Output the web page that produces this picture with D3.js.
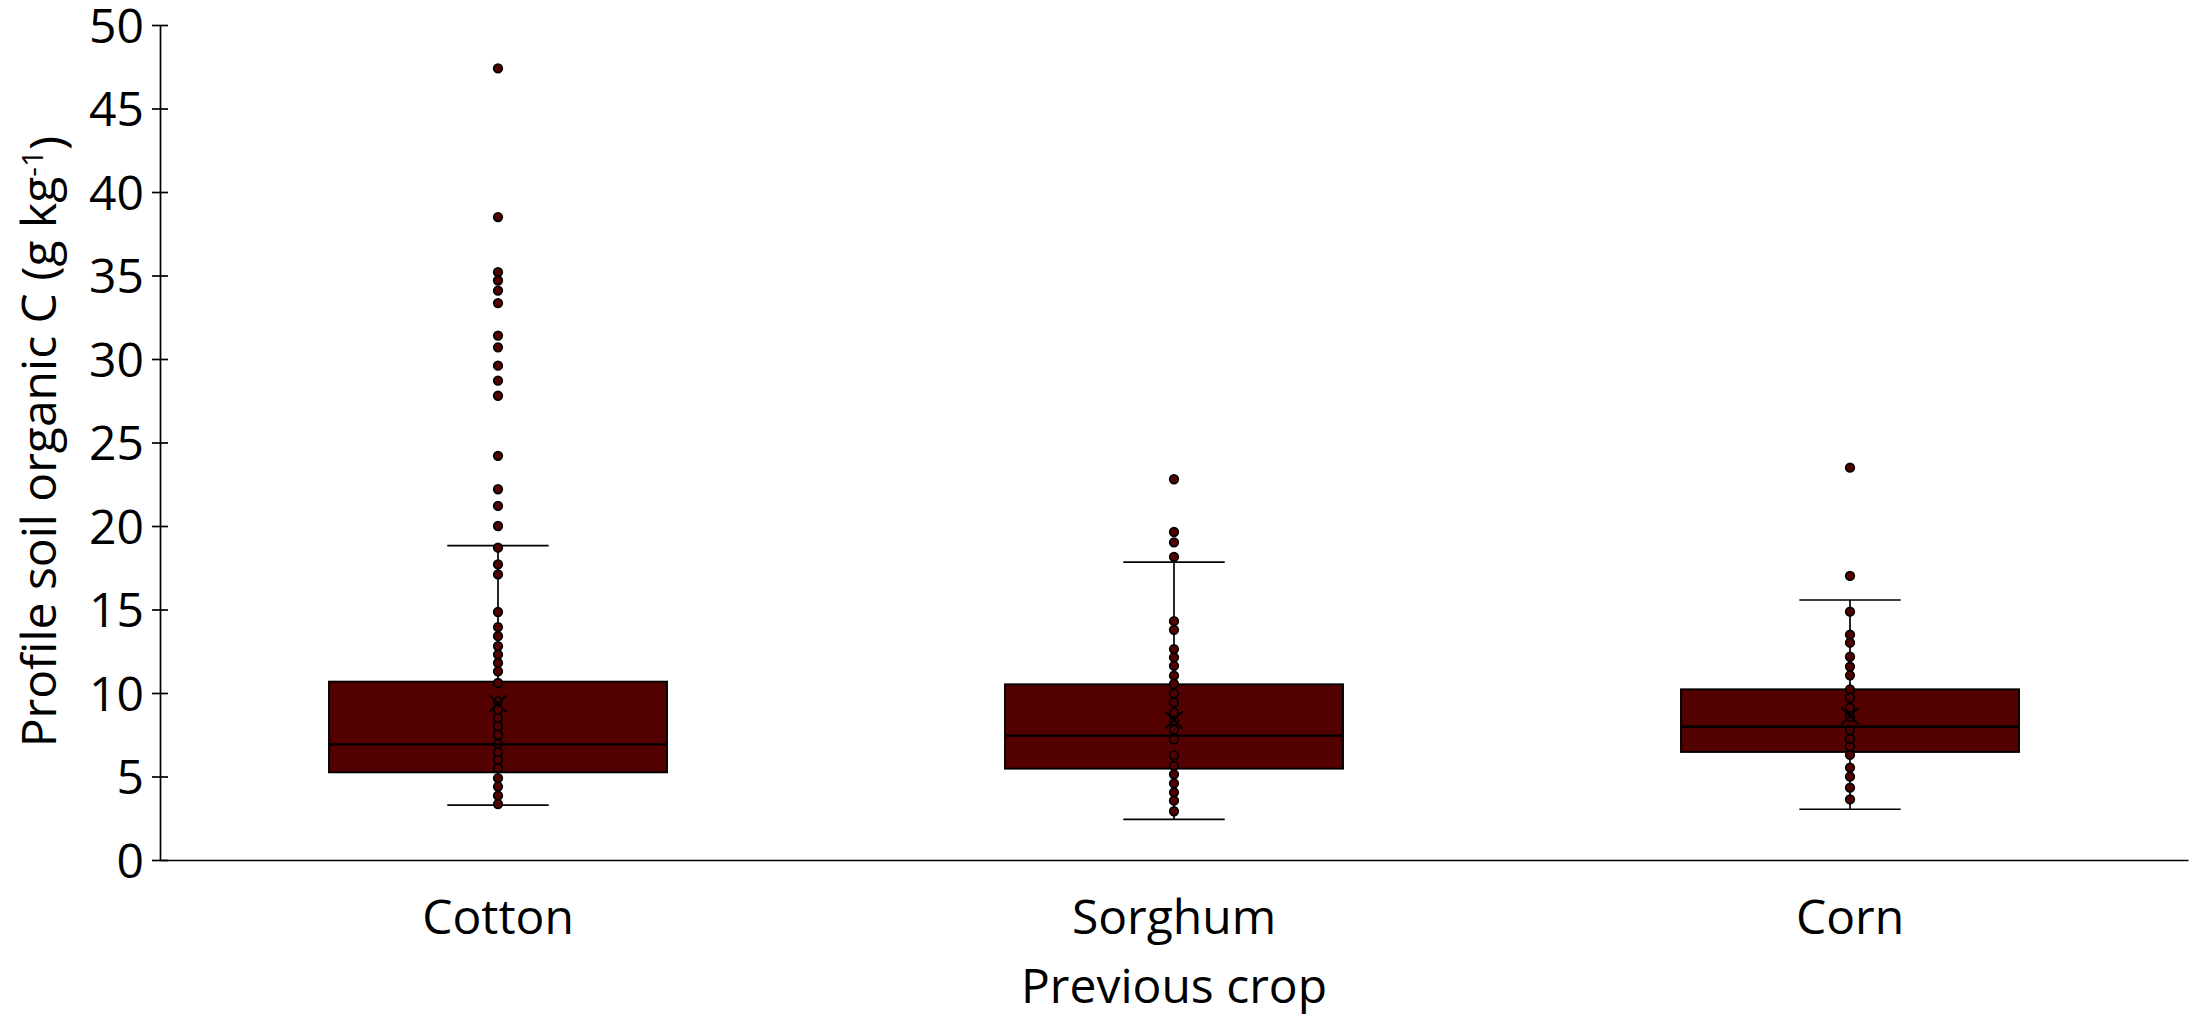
<!DOCTYPE html>
<html>
<head>
<meta charset="utf-8">
<script src="https://cdn.jsdelivr.net/npm/d3@7"></script>
<style>
  html, body { margin: 0; padding: 0; background: #ffffff; }
  svg { display: block; }
  text { font-family: "Open Sans", "Noto Sans", sans-serif; fill: #000; }
</style>
</head>
<body>
<svg id="chart" width="2201" height="1017"></svg>
<script>
// Previous crop categories
const crops = ["Cotton", "Sorghum", "Corn"];

// Box summaries (g kg-1)
const q1Values      = [5.25, 5.47, 6.47];
const medianValues  = [6.92, 7.45, 7.98];
const q3Values      = [10.68, 10.52, 10.22];
const lowerWhisker  = [3.28, 2.43, 3.04];
const upperWhisker  = [18.82, 17.84, 15.57];
const meanValues    = [9.36, 8.38, 8.62];

// Individual profile observations per crop
const cottonPoints = [47.4, 38.5, 35.2, 34.7, 34.1, 33.35, 31.4, 30.7, 29.6, 28.7, 27.8,
  24.2, 22.2, 21.2, 20.0, 18.7, 17.7, 17.1, 14.85, 13.95, 13.4, 12.8, 12.3, 11.8, 11.3,
  10.6, 9.5, 9.0, 8.5, 8.0, 7.5, 6.95, 6.45, 6.0, 5.5, 4.9, 4.4, 3.85, 3.35];
const sorghumPoints = [22.8, 19.64, 19.02, 18.15, 14.3, 13.78, 12.63, 12.13, 11.63, 11.04,
  10.54, 9.98, 9.43, 8.83, 8.33, 7.8, 7.22, 6.27, 5.65, 5.13, 4.59, 4.05, 3.55, 2.92];
const cornPoints = [23.49, 17.01, 14.87, 13.49, 13.01, 12.17, 11.58, 11.06, 10.22, 9.72,
  9.12, 8.55, 7.78, 7.25, 6.79, 6.29, 5.53, 4.99, 4.33, 3.63];
const pointSets = [cottonPoints, sorghumPoints, cornPoints];

// Axis ticks
const yTicks = [0, 5, 10, 15, 20, 25, 30, 35, 40, 45, 50];

const boxFill = "#520000";
const fontSize = 48;

const svg = d3.select("#chart");
const margin = { top: 25, right: 13, bottom: 157, left: 160 };
const W = 2201, H = 1017;
const innerW = W - margin.left - margin.right;
const innerH = H - margin.top - margin.bottom;

const x = d3.scaleBand().domain(crops).range([0, innerW]).paddingInner(0).paddingOuter(0);
const y = d3.scaleLinear().domain([0, 50]).range([innerH, 0]);

const g = svg.append("g").attr("transform", `translate(${margin.left},${margin.top})`);

const boxW = x.bandwidth() * 0.5;
const capW = x.bandwidth() * 0.15;

const stats = crops.map((c, i) => ({
  crop: c, q1: q1Values[i], med: medianValues[i], q3: q3Values[i],
  lo: lowerWhisker[i], hi: upperWhisker[i], mean: meanValues[i], pts: pointSets[i]
}));

const groups = g.selectAll("g.box").data(stats).join("g")
  .attr("class", "box")
  .attr("transform", d => `translate(${x(d.crop) + x.bandwidth() / 2},0)`);

// whisker stems
groups.append("line")
  .attr("x1", 0).attr("x2", 0)
  .attr("y1", d => y(d.q3)).attr("y2", d => y(d.hi))
  .attr("stroke", "#000").attr("stroke-width", 1.7);
groups.append("line")
  .attr("x1", 0).attr("x2", 0)
  .attr("y1", d => y(d.q1)).attr("y2", d => y(d.lo))
  .attr("stroke", "#000").attr("stroke-width", 1.7);

// whisker caps
groups.append("line")
  .attr("x1", -capW / 2).attr("x2", capW / 2)
  .attr("y1", d => y(d.hi)).attr("y2", d => y(d.hi))
  .attr("stroke", "#000").attr("stroke-width", 1.7);
groups.append("line")
  .attr("x1", -capW / 2).attr("x2", capW / 2)
  .attr("y1", d => y(d.lo)).attr("y2", d => y(d.lo))
  .attr("stroke", "#000").attr("stroke-width", 1.7);

// interquartile box
groups.append("rect")
  .attr("x", -boxW / 2).attr("width", boxW)
  .attr("y", d => y(d.q3)).attr("height", d => y(d.q1) - y(d.q3))
  .attr("fill", boxFill).attr("stroke", "#000").attr("stroke-width", 1.9);

// observations
groups.each(function (d) {
  d3.select(this).selectAll("circle").data(d.pts).join("circle")
    .attr("cx", 0).attr("cy", v => y(v)).attr("r", 4.3)
    .attr("fill", boxFill).attr("stroke", "#000").attr("stroke-width", 1.7);
});

// median line
groups.append("line")
  .attr("x1", -boxW / 2).attr("x2", boxW / 2)
  .attr("y1", d => y(d.med)).attr("y2", d => y(d.med))
  .attr("stroke", "#000").attr("stroke-width", 2.3);

// mean marker
groups.append("path")
  .attr("transform", d => `translate(0,${y(d.mean)})`)
  .attr("d", "M-8.5,-8.5L8.5,8.5M-8.5,8.5L8.5,-8.5")
  .attr("fill", "none").attr("stroke", "#000").attr("stroke-width", 1.9);

// y axis
const yAxis = g.append("g")
  .call(d3.axisLeft(y).tickValues(yTicks).tickSizeInner(8).tickSizeOuter(0).tickPadding(8));
yAxis.select(".domain").attr("stroke", "#000").attr("stroke-width", 1.7);
yAxis.selectAll(".tick line").attr("x1", -8).attr("x2", 8).attr("stroke", "#000").attr("stroke-width", 1.7);
yAxis.selectAll(".tick text")
  .style("font-family", "'Open Sans', sans-serif")
  .style("font-size", fontSize + "px").attr("fill", "#000").attr("dy", "0.36em");

// x axis
const xAxis = g.append("g")
  .attr("transform", `translate(0,${innerH})`)
  .call(d3.axisBottom(x).tickSize(0).tickSizeOuter(0));
xAxis.select(".domain").attr("stroke", "#000").attr("stroke-width", 1.7);
xAxis.selectAll(".tick text")
  .style("font-family", "'Open Sans', sans-serif")
  .style("font-size", fontSize + "px").attr("fill", "#000")
  .attr("y", 74).attr("dy", "0");

// axis titles
g.append("text")
  .attr("x", innerW / 2).attr("y", innerH + 143)
  .attr("text-anchor", "middle")
  .style("font-size", fontSize + "px")
  .text("Previous crop");

const yTitle = svg.append("text")
  .attr("transform", `translate(56,${margin.top + innerH / 2 - 1}) rotate(-90)`)
  .attr("text-anchor", "middle")
  .style("font-size", fontSize + "px");
yTitle.append("tspan").text("Profile soil organic C (g kg");
yTitle.append("tspan").attr("dy", "-0.45em").style("font-size", "30px").text("-1");
yTitle.append("tspan").attr("dy", "0.45em").text(")");
</script>
</body>
</html>
